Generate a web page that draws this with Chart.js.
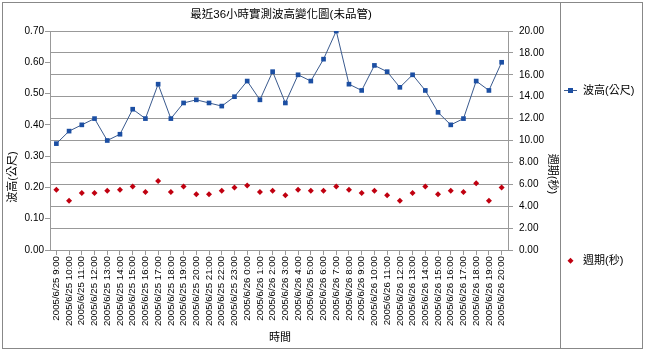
<!DOCTYPE html>
<html>
<head>
<meta charset="utf-8">
<script src="https://cdn.jsdelivr.net/npm/chart.js@4"></script>
<style>
  body { margin: 0; background: #fff; }
  canvas { display: block; }
</style>
</head>
<body>
<canvas id="waveChart" width="645" height="351"></canvas>
<script>
// 時間軸標籤
const horas = [
  '2005/6/25 9:00', '2005/6/25 10:00', '2005/6/25 11:00', '2005/6/25 12:00',
  '2005/6/25 13:00', '2005/6/25 14:00', '2005/6/25 15:00', '2005/6/25 16:00',
  '2005/6/25 17:00', '2005/6/25 18:00', '2005/6/25 19:00', '2005/6/25 20:00',
  '2005/6/25 21:00', '2005/6/25 22:00', '2005/6/25 23:00', '2005/6/26 0:00',
  '2005/6/26 1:00', '2005/6/26 2:00', '2005/6/26 3:00', '2005/6/26 4:00',
  '2005/6/26 5:00', '2005/6/26 6:00', '2005/6/26 7:00', '2005/6/26 8:00',
  '2005/6/26 9:00', '2005/6/26 10:00', '2005/6/26 11:00', '2005/6/26 12:00',
  '2005/6/26 13:00', '2005/6/26 14:00', '2005/6/26 15:00', '2005/6/26 16:00',
  '2005/6/26 17:00', '2005/6/26 18:00', '2005/6/26 19:00', '2005/6/26 20:00'
];

// 波高 (公尺)
const waveHeight = [
  0.34, 0.38, 0.40, 0.42, 0.35, 0.37, 0.45, 0.42, 0.53, 0.42, 0.47, 0.48,
  0.47, 0.46, 0.49, 0.54, 0.48, 0.57, 0.47, 0.56, 0.54, 0.61, 0.70, 0.53,
  0.51, 0.59, 0.57, 0.52, 0.56, 0.51, 0.44, 0.40, 0.42, 0.54, 0.51, 0.60
];

// 週期 (秒)
const period = [
  5.5, 4.5, 5.2, 5.2, 5.4, 5.5, 5.8, 5.3, 6.3, 5.3, 5.8, 5.1,
  5.1, 5.4, 5.7, 5.9, 5.3, 5.4, 5.0, 5.5, 5.4, 5.4, 5.8, 5.5,
  5.2, 5.4, 5.0, 4.5, 5.2, 5.8, 5.1, 5.4, 5.3, 6.1, 4.5, 5.7
];

const titulo = '最近36小時實測波高變化圖(未品管)';
const nombreAltura = '波高(公尺)';
const nombrePeriodo = '週期(秒)';
const tituloX = '時間';

const fuente = "'Liberation Sans', Arial, 'Noto Sans CJK TC', sans-serif";
const azulLinea = '#3a5a8e';
const azulMarca = '#1c4fa3';
const rojo = '#c00010';
const gris = '#999999';

// Dibujamos fondo, marco, título, títulos de ejes y leyenda
const decoracion = {
  id: 'decoracion',
  beforeDraw(chart) {
    const c = chart.ctx;
    c.save();
    c.fillStyle = '#fff';
    c.fillRect(0, 0, chart.width, chart.height);
    c.restore();
  },
  afterDraw(chart) {
    const c = chart.ctx;
    c.save();
    c.strokeStyle = '#888';
    c.lineWidth = 1;
    c.strokeRect(2.5, 2.5, 640, 346);
    c.beginPath();
    c.moveTo(560.5, 2.5);
    c.lineTo(560.5, 348.5);
    c.stroke();

    c.fillStyle = '#000';
    c.textAlign = 'center';
    c.textBaseline = 'middle';
    c.font = '11.5px ' + fuente;
    c.fillText(titulo, 281, 15);

    c.font = '11px ' + fuente;
    c.fillText(tituloX, 280, 338);

    c.save();
    c.translate(13, 177);
    c.rotate(-Math.PI / 2);
    c.fillText(nombreAltura, 0, 0);
    c.restore();

    c.save();
    c.translate(552, 174);
    c.rotate(Math.PI / 2);
    c.fillText(nombrePeriodo, 0, 0);
    c.restore();

    // leyenda
    c.textAlign = 'left';
    c.strokeStyle = azulLinea;
    c.beginPath();
    c.moveTo(564, 90.5);
    c.lineTo(577, 90.5);
    c.stroke();
    c.fillStyle = azulMarca;
    c.fillRect(568, 88, 5, 5);
    c.fillStyle = '#000';
    c.fillText(nombreAltura, 583, 91);

    c.fillStyle = rojo;
    c.beginPath();
    c.moveTo(570.5, 257.7);
    c.lineTo(573.5, 260.7);
    c.lineTo(570.5, 263.7);
    c.lineTo(567.5, 260.7);
    c.closePath();
    c.fill();
    c.fillStyle = '#000';
    c.fillText(nombrePeriodo, 583, 261);
    c.restore();
  }
};

const ctx = document.getElementById('waveChart');

new Chart(ctx, {
  type: 'line',
  data: {
    labels: horas,
    datasets: [{
      label: nombreAltura,
      data: waveHeight,
      yAxisID: 'y',
      borderColor: azulLinea,
      borderWidth: 1,
      backgroundColor: azulMarca,
      pointStyle: 'rect',
      pointRadius: 3.3,
      pointBorderWidth: 0,
      pointBackgroundColor: azulMarca,
      tension: 0
    }, {
      label: nombrePeriodo,
      data: period,
      yAxisID: 'y1',
      showLine: false,
      pointStyle: 'rectRot',
      pointRadius: 3,
      pointBorderWidth: 0,
      pointBackgroundColor: rojo,
      backgroundColor: rojo
    }]
  },
  options: {
    responsive: false,
    animation: false,
    layout: { padding: { left: 4, right: 84, top: 31, bottom: 4 } },
    plugins: {
      legend: { display: false },
      title: { display: false },
      tooltip: { enabled: false }
    },
    scales: {
      x: {
        offset: true,
        afterFit(s) { s.height = 97; },
        grid: { offset: false, drawOnChartArea: false, tickLength: 5, color: gris },
        border: { color: gris },
        ticks: {
          autoSkip: false,
          maxRotation: 90,
          minRotation: 90,
          padding: 1,
          color: '#000',
          font: { family: fuente, size: 9.7 }
        }
      },
      y: {
        position: 'left',
        min: 0,
        max: 0.7,
        afterFit(s) { s.width = 46; },
        grid: { drawOnChartArea: false, tickLength: 5, color: gris },
        border: { color: gris },
        ticks: {
          stepSize: 0.1,
          padding: 1,
          color: '#000',
          font: { family: fuente, size: 10 },
          callback: v => Number(v).toFixed(2)
        }
      },
      y1: {
        position: 'right',
        min: 0,
        max: 20,
        afterFit(s) { s.width = 53; },
        grid: { drawOnChartArea: true, tickLength: 5, color: gris },
        border: { color: gris },
        ticks: {
          stepSize: 2,
          padding: 6,
          color: '#000',
          font: { family: fuente, size: 10 },
          callback: v => Number(v).toFixed(2)
        }
      }
    }
  },
  plugins: [decoracion]
});
</script>
</body>
</html>
